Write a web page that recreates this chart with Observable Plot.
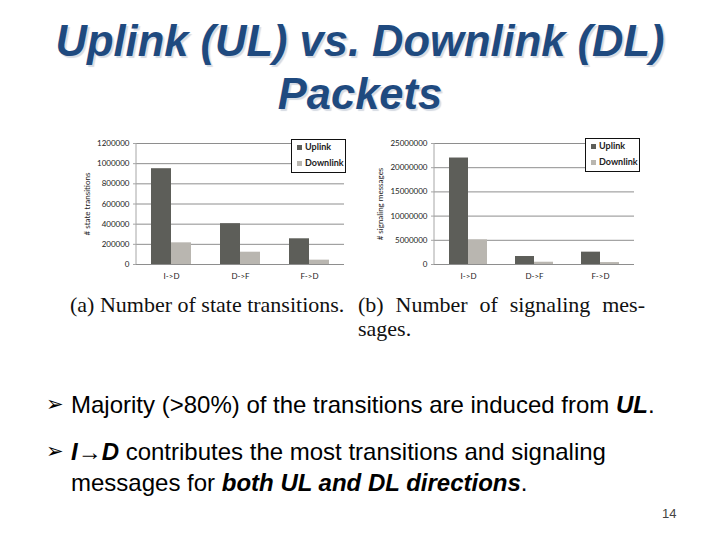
<!DOCTYPE html>
<html>
<head>
<meta charset="utf-8">
<script src="https://cdn.jsdelivr.net/npm/d3@7"></script>
<script src="https://cdn.jsdelivr.net/npm/@observablehq/plot@0.6"></script>
<style>
  body { margin: 0; background: #fff; }
  #slide { position: relative; width: 720px; height: 540px; overflow: hidden; background: #fff; font-family: "Liberation Sans", Arial, sans-serif; }
  .title { position: absolute; left: 0; width: 720px; text-align: center; font-weight: bold; font-style: italic; font-size: 43.5px; line-height: 52px; color: #1f4a7f; text-shadow: 2px 2px 1px #d6dbe3; white-space: nowrap; }
  .layer { position: absolute; }
  .legend { position: absolute; border: 1px solid #111; background: #fff; font-family: Lato, sans-serif; font-size: 9px; font-weight: bold; color: #222; }
  .legend .item { position: absolute; left: 5px; white-space: nowrap; line-height: 10px; }
  .legend .sw { display: inline-block; width: 5px; height: 5px; margin-right: 3px; vertical-align: 0px; }
  .cap { position: absolute; font-family: "Liberation Serif", "Times New Roman", serif; font-size: 22px; line-height: 23px; color: #111; white-space: nowrap; }
  .bul { position: absolute; font-size: 24px; line-height: 31px; color: #000; white-space: nowrap; }
  .mark { position: absolute; font-family: "DejaVu Sans", sans-serif; font-size: 21px; line-height: 31px; color: #000; }
  .pg { position: absolute; left: 662px; top: 506px; font-size: 13px; color: #444; }
</style>
</head>
<body>
<div id="slide">
  <div class="title" style="top:15px;">Uplink (UL) vs. Downlink (DL)</div>
  <div class="title" style="top:68px;">Packets</div>

  <div id="chartA"></div>
  <div id="chartB"></div>

  <div class="cap" style="left:70px; top:293px;">(a) Number of state transitions.</div>
  <div class="cap" style="left:358px; top:293px; width:287px; text-align:justify; text-align-last:justify;">(b) Number of signaling mes-</div>
  <div class="cap" style="left:358px; top:317px;">sages.</div>

  <div class="mark" style="left:46px; top:389px;">➢</div>
  <div class="bul" style="left:71px; top:389px;">Majority (&gt;80%) of the transitions are induced from <b><i>UL</i></b>.</div>
  <div class="mark" style="left:46px; top:436px;">➢</div>
  <div class="bul" style="left:71px; top:436px;"><b><i>I→D</i></b> contributes the most transitions and signaling</div>
  <div class="bul" style="left:71px; top:467px;">messages for <b><i>both UL and DL directions</i></b>.</div>

  <div class="pg">14</div>
</div>

<script>
// ---- data ----
const categories = ["I->D", "D->F", "F->D"];
const seriesNames = ["Uplink", "Downlink"];
const seriesColors = ["#5d5e59", "#b9b6b0"];

const transitionsUplink   = [950000, 405000, 255000];
const transitionsDownlink = [215000, 122000, 43000];
const transitionsTicks    = [0, 200000, 400000, 600000, 800000, 1000000, 1200000];

const signalingUplink   = [22000000, 1650000, 2550000];
const signalingDownlink = [5100000, 470000, 400000];
const signalingTicks    = [0, 5000000, 10000000, 15000000, 20000000, 25000000];

function makeChart(containerId, cfg) {
  const { uplink, downlink, ticks, label, left, top, width, height, ml, mr, labelOffset, legend } = cfg;
  const container = document.getElementById(containerId);
  const data = categories.flatMap((c, i) => [
    { cat: c, series: seriesNames[0], value: uplink[i] },
    { cat: c, series: seriesNames[1], value: downlink[i] }
  ]);
  const common = {
    width, height,
    marginLeft: ml, marginRight: mr, marginTop: 13, marginBottom: 21,
    style: { fontFamily: "Lato, sans-serif", fontSize: "8px", color: "#222", background: "transparent", overflow: "visible" }
  };
  const yDomain = [0, d3.max(ticks)];

  const back = Plot.plot({
    ...common,
    x: { type: "band", domain: categories, paddingInner: 0.42, paddingOuter: 0.21, axis: null },
    y: { domain: yDomain, axis: null },
    marks: [
      Plot.ruleY(ticks, { stroke: "#8e8e8e", strokeWidth: 1 }),
      (index, scales, values, dims) =>
        d3.create("svg:line")
          .attr("x1", dims.marginLeft).attr("x2", dims.marginLeft)
          .attr("y1", dims.marginTop).attr("y2", dims.height - dims.marginBottom)
          .attr("stroke", "#a6a6a6").node(),
      Plot.axisY(ticks, {
        tickFormat: d => String(d), tickSize: 3, tickPadding: 4, stroke: "#a6a6a6",
        label, labelAnchor: "center", labelArrow: "none", labelOffset
      }),
      Plot.axisX({ tickSize: 0, tickPadding: 9, label: null })
    ]
  });

  const front = Plot.plot({
    ...common,
    fx: { domain: categories, paddingInner: 0.42, paddingOuter: 0.21, axis: null, label: null },
    x: { domain: seriesNames, padding: 0, axis: null },
    y: { domain: yDomain, axis: null },
    color: { domain: seriesNames, range: seriesColors },
    marks: [
      Plot.barY(data, { fx: "cat", x: "series", y: "value", fill: "series" })
    ]
  });

  for (const svg of [back, front]) {
    const wrap = document.createElement("div");
    wrap.className = "layer";
    wrap.style.left = left + "px";
    wrap.style.top = top + "px";
    wrap.appendChild(svg);
    container.appendChild(wrap);
  }

  const lg = document.createElement("div");
  lg.className = "legend";
  lg.style.left = legend.left + "px";
  lg.style.top = legend.top + "px";
  lg.style.width = legend.w + "px";
  lg.style.height = legend.h + "px";
  seriesNames.forEach((s, i) => {
    const it = document.createElement("div");
    it.className = "item";
    it.style.top = (i === 0 ? 2 : 18) + "px";
    const sw = document.createElement("span");
    sw.className = "sw";
    sw.style.background = seriesColors[i];
    it.appendChild(sw);
    it.appendChild(document.createTextNode(s));
    lg.appendChild(it);
  });
  container.appendChild(lg);
}

makeChart("chartA", {
  uplink: transitionsUplink, downlink: transitionsDownlink, ticks: transitionsTicks,
  label: "# state transitions",
  left: 75, top: 130, width: 280, height: 155, ml: 61, mr: 11, labelOffset: 52,
  legend: { left: 291, top: 139, w: 53, h: 32 }
});
makeChart("chartB", {
  uplink: signalingUplink, downlink: signalingDownlink, ticks: signalingTicks,
  label: "# signaling messages",
  left: 365, top: 130, width: 285, height: 155, ml: 69, mr: 16, labelOffset: 57,
  legend: { left: 585, top: 138, w: 53, h: 32 }
});
</script>
</body>
</html>
